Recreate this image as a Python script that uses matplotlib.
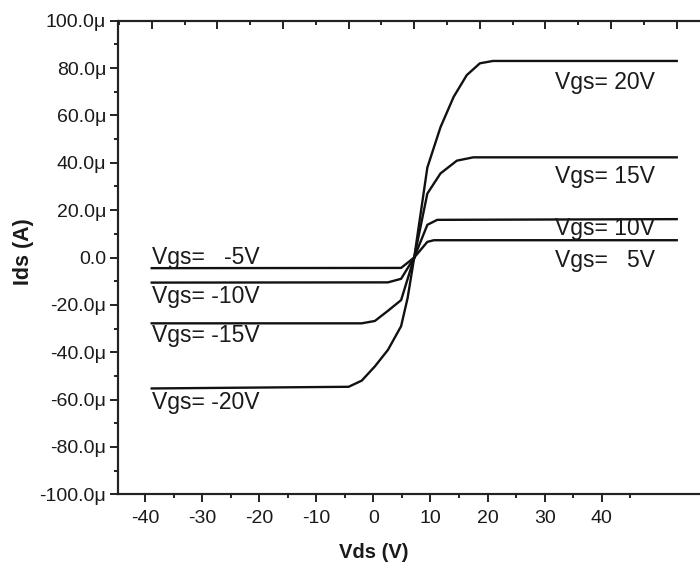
import matplotlib
matplotlib.use("Agg")
import matplotlib.pyplot as plt
from matplotlib.ticker import FixedLocator, MultipleLocator, NullFormatter

plt.rcParams['font.family'] = ['Liberation Sans', 'DejaVu Sans']
plt.rcParams['axes.unicode_minus'] = False

# ---- data (Vds in V, Ids in µA) ----
v_p20 = [0, 2, 4, 6, 8, 10, 12, 40]
i_p20 = [0, 38, 55, 67.8, 77, 82, 83, 83]
v_p15 = [0, 2, 4, 6.5, 9, 40]
i_p15 = [0, 27, 35.5, 40.9, 42.3, 42.3]
v_p10 = [0, 2, 3.5, 40]
i_p10 = [0, 13.8, 15.9, 16.2]
v_p5 = [0, 2, 3, 40]
i_p5 = [0, 6.6, 7.3, 7.3]

v_m5 = [-40, -2, 0]
i_m5 = [-4.5, -4.4, 0]
v_m10 = [-40, -4, -2, 0]
i_m10 = [-10.6, -10.5, -9, 0]
v_m15 = [-40, -8, -6, -4, -2, 0]
i_m15 = [-27.8, -27.8, -26.8, -22.5, -18, 0]
v_m20 = [-40, -10, -8, -6, -4, -2, -1, 0]
i_m20 = [-55.3, -54.6, -52, -46, -39, -29, -17, 0]

series = [(v_p20, i_p20), (v_p15, i_p15), (v_p10, i_p10), (v_p5, i_p5),
          (v_m5, i_m5), (v_m10, i_m10), (v_m15, i_m15), (v_m20, i_m20)]

labels = ["Vgs= 20V", "Vgs= 15V", "Vgs= 10V", "Vgs=   5V",
          "Vgs=   -5V", "Vgs= -10V", "Vgs= -15V", "Vgs= -20V"]
label_x = [21.5, 21.5, 21.5, 21.5, -40, -40, -40, -40]
label_y = [71.0, 31.3, 9.4, -4.0, -2.8, -19.4, -35.7, -63.8]

x_ticks = [-40, -30, -20, -10, 0, 10, 20, 30, 40]
x_ticklabels = ["-40", "-30", "-20", "-10", "0", "10", "20", "30", "40"]
y_ticks = [-100, -80, -60, -40, -20, 0, 20, 40, 60, 80, 100]
y_ticklabels = ["-100.0\u03bc", "-80.0\u03bc", "-60.0\u03bc", "-40.0\u03bc", "-20.0\u03bc",
                "0.0", "20.0\u03bc", "40.0\u03bc", "60.0\u03bc", "80.0\u03bc", "100.0\u03bc"]

# ---- layout ----
W, H = 700, 567
fig = plt.figure(figsize=(W / 100, H / 100), dpi=100)
L, R, T, B = 118, 760, 20.7, 494.3
ax = fig.add_axes([L / W, 1 - B / H, (R - L) / W, (B - T) / H])

spine_c = '#222222'
line_c = '#111111'
for s in ax.spines.values():
    s.set_linewidth(1.5)
    s.set_color(spine_c)

ax.set_xlim(-44.73, 67.73)
ax.set_ylim(-100, 100)
ax.xaxis.set_major_locator(FixedLocator(x_ticks))
ax.set_xticklabels(x_ticklabels)
ax.xaxis.set_minor_locator(FixedLocator([-45, -35, -25, -15, -5, 5, 15, 25, 35, 45]))
ax.yaxis.set_major_locator(FixedLocator(y_ticks))
ax.set_yticklabels(y_ticklabels)
ax.yaxis.set_minor_locator(MultipleLocator(10))
ax.tick_params(which='both', direction='out', width=1.4, color=spine_c,
               labelsize=14, labelcolor='#1a1a1a')
ax.tick_params(which='major', length=6)
ax.tick_params(which='minor', length=3)
ax.tick_params(axis='x', pad=5.0)
ax.tick_params(axis='y', pad=2.5)

# data axis (top scale)
axt = ax.twiny()
axt.set_xlim(-45.14, 52.69)
axt.xaxis.set_major_locator(MultipleLocator(10))
axt.xaxis.set_minor_locator(MultipleLocator(5))
axt.xaxis.set_major_formatter(NullFormatter())
axt.tick_params(which='both', direction='in', width=1.4, color=spine_c, top=True, bottom=False)
axt.tick_params(which='major', length=6)
axt.tick_params(which='minor', length=3)
for s in axt.spines.values():
    s.set_linewidth(1.5)
    s.set_color(spine_c)

for (vx, iy) in series:
    axt.plot(vx, iy, color=line_c, lw=1.7, solid_joinstyle='round')

for txt, lx, ly in zip(labels, label_x, label_y):
    axt.text(lx, ly, txt, fontsize=16.5, ha='left', va='baseline', color='#1a1a1a')

fig.text(374 / W, 1 - 552 / H, "Vds (V)", fontsize=14.5, fontweight='bold',
         ha='center', va='center', color='#1a1a1a')
fig.text(23 / W, 1 - 252 / H, "Ids (A)", fontsize=15.5, fontweight='bold',
         rotation=90, ha='center', va='center', color='#1a1a1a')

fig.savefig("out.png", dpi=100)
